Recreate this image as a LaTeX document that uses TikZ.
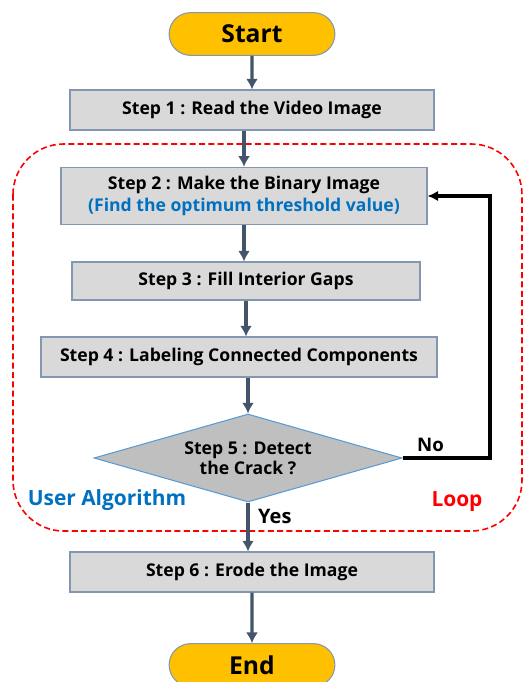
\documentclass[tikz,border=0pt]{standalone}
\usepackage{fontspec}
\setmainfont{Open Sans}
\usepackage{xcolor}
\usetikzlibrary{shapes, arrows.meta, positioning}

\definecolor{boxgray}{HTML}{D9D9D9}
\definecolor{boxline}{HTML}{8497B0}
\definecolor{flowblue}{HTML}{44546A}
\definecolor{termyellow}{HTML}{FFC000}
\definecolor{diafill}{HTML}{BFBFBF}
\definecolor{dialine}{HTML}{5B9BD5}
\definecolor{textblue}{HTML}{0070C0}

\tikzset{
  stepbox/.style={draw=boxline, fill=boxgray, line width=0.8pt, minimum width=273pt, minimum height=30pt, font=\fontsize{13.2}{15}\selectfont\bfseries, align=center},
  term/.style={draw=boxline, fill=termyellow, rounded rectangle, line width=0.8pt, minimum width=131pt, minimum height=32pt, font=\fontsize{18.5}{20}\selectfont\bfseries},
  flow/.style={-{Latex[length=8pt,width=9pt]}, draw=flowblue, line width=2.6pt},
}

\begin{document}
\begin{tikzpicture}[x=0.75pt, y=-0.75pt]
      \useasboundingbox (0,0) rectangle (529,682);

      % loop region
      \draw[red, dash pattern=on 4.5pt off 2.5pt, line width=1.2pt, rounded corners=38pt] (13,144) rectangle (522,531);
      \node[text=textblue, font=\fontsize{15.7}{17}\selectfont\bfseries] at (107,500) (user) {User Algorithm};
      \node[text=red, font=\fontsize{15.7}{17}\selectfont\bfseries] at (457,502) (loop) {Loop};

      \node[term] at (252,34) (start) {Start};
      \node[stepbox] at (252,110) (step1) {Step 1 : Read the Video Image};
      \node[stepbox, minimum width=274.5pt, minimum height=43pt] at (244,196) (step2) {Step 2 : Make the Binary Image\\[1pt]\textcolor{textblue}{(Find the optimum threshold value)}};
      \node[stepbox, minimum width=261pt, minimum height=28.5pt] at (246,281) (step3) {Step 3 : Fill Interior Gaps};
      \node[stepbox, minimum width=297pt] at (239,357) (step4) {Step 4 : Labeling Connected Components};
      \node[diamond, shape aspect=3.5, draw=dialine, fill=diafill, line width=0.8pt, inner sep=0pt, minimum width=231pt, minimum height=66pt, align=center, font=\fontsize{13.2}{15}\selectfont\bfseries] at (248,458) (step5) {Step 5 : Detect\\the Crack ?};
      \node[stepbox] at (252,572) (step6) {Step 6 : Erode the Image};
      \node[term] at (252,665) (end) {End};

      \draw[flow] (start) -- (step1);
      \draw[flow] (step1.south -| step2.north) -- (step2);
      \draw[flow] (step2.south) -- (step2.south |- step3.north);
      \draw[flow] (step3.south) -- (step3.south |- step4.north);
      \draw[flow] (step4.south -| step5.north) -- (step5.north);
      \draw[flow] (step5.south) -- node[right, black, font=\fontsize{15}{17}\selectfont\bfseries, pos=0.28, xshift=3pt]{Yes} (step5.south |- step6.north);
      \draw[flow] (step6) -- (end);

      \coordinate (turn) at (490,458);
      \draw[-{Latex[length=8pt,width=8pt]}, line width=2.4pt] (step5.east) -- node[above, font=\fontsize{14}{16}\selectfont\bfseries, pos=0.32]{No} (turn) |- (step2.east);
    \end{tikzpicture}
\end{document}
